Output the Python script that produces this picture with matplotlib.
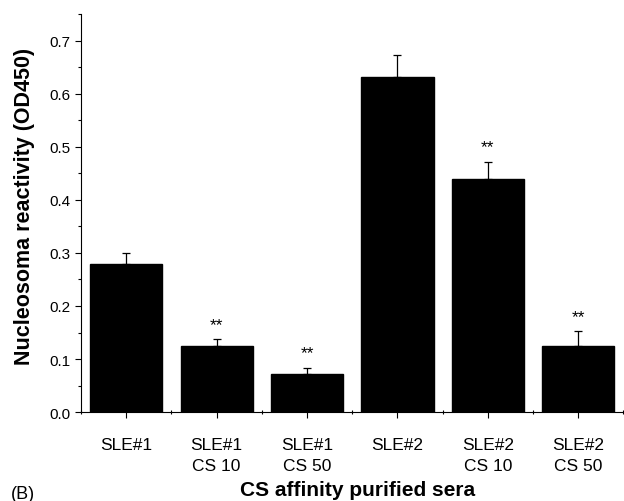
import numpy as np
import matplotlib.pyplot as plt
from matplotlib.ticker import MultipleLocator

plt.rcParams['font.family'] = ['Liberation Sans', 'DejaVu Sans']

# values
groups = ['SLE#1', 'SLE#1\nCS 10', 'SLE#1\nCS 50', 'SLE#2', 'SLE#2\nCS 10', 'SLE#2\nCS 50']
means = [0.280, 0.124, 0.071, 0.632, 0.439, 0.124]
errs = [0.020, 0.013, 0.013, 0.040, 0.032, 0.028]
signif = [False, True, True, False, True, True]

fig = plt.figure(figsize=(6.24, 5.02), dpi=100)
ax = fig.add_axes([0.13, 0.177, 0.869, 0.793])

x = np.arange(len(groups))
ax.bar(x, means, width=0.8, color='black', edgecolor='black')
ax.errorbar(x, means, yerr=[np.zeros(len(errs)), errs], fmt='none',
            ecolor='black', elinewidth=0.9, capsize=3, capthick=0.9)

# significance marks
for xi, m, e, s in zip(x, means, errs, signif):
    if s:
        ax.text(xi, m + e + 0.02, '**', ha='center', va='baseline', fontsize=12.5)

ax.set_xlim(-0.5, 5.5)
ax.set_ylim(0, 0.75)
ax.set_xticks(x)
ax.set_xticklabels(groups, fontsize=12.5, linespacing=1.45)
ax.xaxis.set_minor_locator(MultipleLocator(1, offset=0.5))
ax.yaxis.set_major_locator(MultipleLocator(0.1))
ax.yaxis.set_minor_locator(MultipleLocator(0.05))
ax.yaxis.set_major_formatter(plt.FormatStrFormatter('%.1f'))
ax.tick_params(axis='y', labelsize=11, length=4, width=0.8)
ax.tick_params(axis='y', which='minor', length=2, width=0.8)
ax.tick_params(axis='x', length=4, width=0.8, pad=14)
ax.tick_params(axis='x', which='minor', length=3, width=0.8, direction='inout')

ax.spines['top'].set_visible(False)
ax.spines['right'].set_visible(False)
ax.spines['left'].set_linewidth(0.8)
ax.spines['bottom'].set_linewidth(0.8)

ax.set_ylabel('Nucleosoma reactivity (OD450)', fontsize=15.5, fontweight='bold')
ax.set_xlabel('CS affinity purified sera', fontsize=15, fontweight='bold')
ax.yaxis.set_label_coords(-0.085, 0.518)
ax.xaxis.set_label_coords(0.509, -0.171)
fig.text(0.018, 0.005, '(B)', fontsize=13)

fig.savefig('out.png', dpi=100)
